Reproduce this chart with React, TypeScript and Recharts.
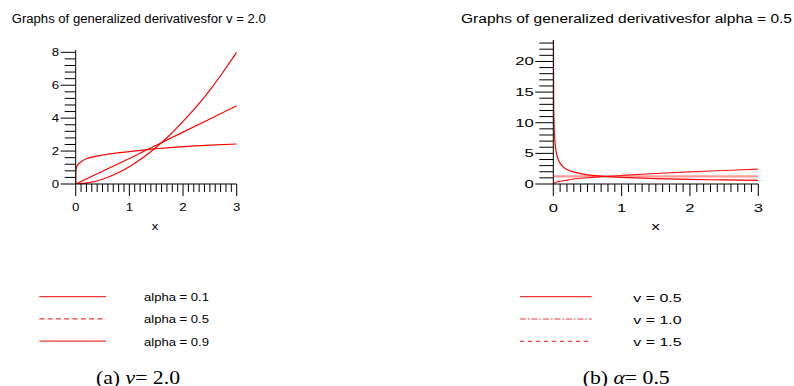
import { LineChart, Line, XAxis, YAxis } from 'recharts';

// ---- left panel: nu = 2.0 ----
const leftSteepX = [0, 0.25, 0.5, 0.75, 1, 1.25, 1.5, 1.75, 2, 2.25, 2.5, 2.75, 3];
const leftSteepY = [0, 0.08, 0.29, 0.62, 1.05, 1.59, 2.23, 2.96, 3.8, 4.7, 5.7, 6.82, 8.0];
const leftLinX = [0, 0.5, 1, 1.5, 2, 2.5, 3];
const leftLinY = [0, 0.77, 1.55, 2.35, 3.15, 3.95, 4.75];
const leftFlatX = [0, 0.002, 0.01, 0.03, 0.06, 0.1, 0.2, 0.3, 0.5, 0.75, 1, 1.25, 1.5, 2, 2.5, 3];
const leftFlatY = [0, 0.7, 0.95, 1.12, 1.25, 1.35, 1.53, 1.63, 1.76, 1.88, 1.97, 2.06, 2.14, 2.27, 2.36, 2.43];

// ---- right panel: alpha = 0.5 ----
const rightDecX = [0.002, 0.005, 0.01, 0.02, 0.04, 0.07, 0.1, 0.15, 0.2, 0.3, 0.4, 0.5, 0.7, 1, 1.5, 2, 2.5, 3];
const rightDecY = [23.5, 15, 10.5, 7.5, 5.4, 4.1, 3.4, 2.75, 2.35, 1.95, 1.7, 1.5, 1.28, 1.08, 0.88, 0.75, 0.66, 0.58];
const rightRiseX = [0, 0.02, 0.05, 0.1, 0.2, 0.3, 0.5, 0.7, 1, 1.5, 2, 2.5, 3];
const rightRiseY = [0, 0.2, 0.32, 0.45, 0.63, 0.82, 1.03, 1.19, 1.4, 1.71, 1.98, 2.2, 2.42];
const rightFlatX = [0, 3];
const rightFlatY = [1.25, 1.25];

const leftLegend = ['alpha = 0.1', 'alpha = 0.5', 'alpha = 0.9'];
const rightLegend = ['v = 0.5', 'v = 1.0', 'v = 1.5'];

const xMajor = [0, 1, 2, 3];
const leftYMajor = [0, 2, 4, 6, 8];
const rightYMajor = [0, 5, 10, 15, 20];

const steps = (from: number, to: number, step: number) => {
  const out: number[] = [];
  for (let v = from; v <= to + 1e-9; v += step) out.push(Math.round(v * 100) / 100);
  return out;
};
const xTicks = steps(0, 3, 0.1);
const leftYTicks = steps(0, 8, 0.4);
const rightYTicks = steps(0, 23, 1);

const zip = (xs: number[], ys: number[]) => xs.map((x, i) => ({ x, y: ys[i] }));

const SANS = 'Liberation Sans, Arial, sans-serif';
const RED = '#ff0000';
const AXIS_W = 40;

const xTick = (sx: number, dy: number) => (p: any) => {
  const v = Math.round(p.payload.value * 100) / 100;
  const major = xMajor.includes(v);
  return (
    <g>
      <line x1={p.x} x2={p.x} y1={p.y} y2={p.y + (major ? 12 : 8)} stroke="#000" />
      {major && (
        <text transform={`translate(${p.x},${p.y + dy}) scale(${sx},1)`} textAnchor="middle" fontSize={11.5} fontFamily={SANS} fill="#000">
          {v}
        </text>
      )}
    </g>
  );
};

const yTick = (majors: number[], sx: number, minorLen: number, majorLen: number) => (p: any) => {
  const v = Math.round(p.payload.value * 100) / 100;
  const major = majors.includes(v);
  return (
    <g>
      <line x1={p.x - (major ? majorLen : minorLen)} x2={p.x} y1={p.y} y2={p.y} stroke="#000" />
      {major && (
        <text transform={`translate(${p.x - majorLen - 1.5},${p.y + 4}) scale(${sx},1)`} textAnchor="end" fontSize={11.5} fontFamily={SANS} fill="#000">
          {v}
        </text>
      )}
    </g>
  );
};

export default function App() {
  return (
    <div style={{ position: 'absolute', left: 0, top: 0, width: 794, height: 386, background: '#fff' }}>
      <div style={{ position: 'absolute', left: 0, top: 0 }}>
        <LineChart width={400} height={386} margin={{ top: 50, left: 75.7 - AXIS_W, right: 163.3, bottom: 202 - AXIS_W }}>
          <XAxis type="number" dataKey="x" domain={[0, 3]} ticks={xTicks} interval={0} height={AXIS_W}
            tickSize={0} tickMargin={0} tickLine={false} axisLine={{ stroke: '#000' }} tick={xTick(1.15, 27)} allowDataOverflow />
          <YAxis type="number" domain={[0, 8.14]} ticks={leftYTicks} interval={0} width={AXIS_W}
            tickSize={0} tickMargin={0} tickLine={false} axisLine={{ stroke: '#000' }} tick={yTick(leftYMajor, 1.15, 11, 15)} allowDataOverflow />
          <Line data={zip(leftSteepX, leftSteepY)} dataKey="y" type="natural" stroke={RED} strokeWidth={1.2} dot={false} isAnimationActive={false} />
          <Line data={zip(leftLinX, leftLinY)} dataKey="y" type="linear" stroke={RED} strokeWidth={1.2} dot={false} isAnimationActive={false} />
          <Line data={zip(leftFlatX, leftFlatY)} dataKey="y" type="monotone" stroke={RED} strokeWidth={1.2} dot={false} isAnimationActive={false} />
        </LineChart>
      </div>
      <div style={{ position: 'absolute', left: 400, top: 0 }}>
        <LineChart width={394} height={386} margin={{ top: 40, left: 153.3 - AXIS_W, right: 35.7, bottom: 202 - AXIS_W }}>
          <XAxis type="number" dataKey="x" domain={[0, 3]} ticks={xTicks} interval={0} height={AXIS_W}
            tickSize={0} tickMargin={0} tickLine={false} axisLine={{ stroke: '#000' }} tick={xTick(1.45, 28)} allowDataOverflow />
          <YAxis type="number" domain={[0, 23.5]} ticks={rightYTicks} interval={0} width={AXIS_W}
            tickSize={0} tickMargin={0} tickLine={false} axisLine={{ stroke: '#000' }} tick={yTick(rightYMajor, 1.45, 14, 18)} allowDataOverflow />
          <Line data={zip(rightFlatX, rightFlatY)} dataKey="y" type="linear" stroke={RED} strokeOpacity={0.4} strokeWidth={2.2} dot={false} isAnimationActive={false} />
          <Line data={zip(rightRiseX, rightRiseY)} dataKey="y" type="monotone" stroke={RED} strokeOpacity={0.9} strokeWidth={1.1} dot={false} isAnimationActive={false} />
          <Line data={zip(rightDecX, rightDecY)} dataKey="y" type="monotone" stroke={RED} strokeWidth={1.2} dot={false} isAnimationActive={false} />
        </LineChart>
      </div>
      <svg width={794} height={386} style={{ position: 'absolute', left: 0, top: 0, pointerEvents: 'none' }}>
        <g fontFamily={SANS} fill="#000">
          <text x={11.7} y={22.5} fontSize={12} textLength={254} lengthAdjust="spacingAndGlyphs">
            Graphs of generalized derivativesfor v = 2.0
          </text>
          <text x={461} y={22.5} fontSize={12} textLength={331} lengthAdjust="spacingAndGlyphs">
            Graphs of generalized derivativesfor alpha = 0.5
          </text>
          <text transform="translate(155,229.5) scale(1.15,1)" textAnchor="middle" fontSize={11.5}>x</text>
          <text transform="translate(655.7,229.5) scale(1.45,1)" textAnchor="middle" fontSize={11.5}>x</text>
          {leftLegend.map((t, i) => (
            <g key={t}>
              <line x1={39.3} x2={106} y1={296.7 + i * 22.2} y2={296.7 + i * 22.2} stroke="#f03a3a" strokeWidth={1.2}
                strokeDasharray={i === 1 ? '5 3.3' : undefined} />
              <text x={144} y={301 + i * 22.3} fontSize={11} textLength={65} lengthAdjust="spacingAndGlyphs">{t}</text>
            </g>
          ))}
          {rightLegend.map((t, i) => (
            <g key={t}>
              <line x1={520} x2={591.7} y1={296.7 + i * 22.3} y2={296.7 + i * 22.3} stroke="#f03a3a" strokeWidth={1.2}
                strokeDasharray={i === 1 ? '6 2 1.5 2' : i === 2 ? '4 4' : undefined} />
              <text x={633.3} y={301.7 + i * 22.2} fontSize={11} textLength={48.3} lengthAdjust="spacingAndGlyphs">{t}</text>
            </g>
          ))}
        </g>
        <g fontFamily="Liberation Serif, Times New Roman, serif" fill="#000" fontSize={19}>
          <text x={96} y={383.5} textLength={84} lengthAdjust="spacingAndGlyphs">
            (a) <tspan fontStyle="italic">ν</tspan>= 2.0
          </text>
          <text x={582.7} y={383.5} textLength={87} lengthAdjust="spacingAndGlyphs">
            (b) <tspan fontStyle="italic">α</tspan>= 0.5
          </text>
        </g>
      </svg>
    </div>
  );
}
